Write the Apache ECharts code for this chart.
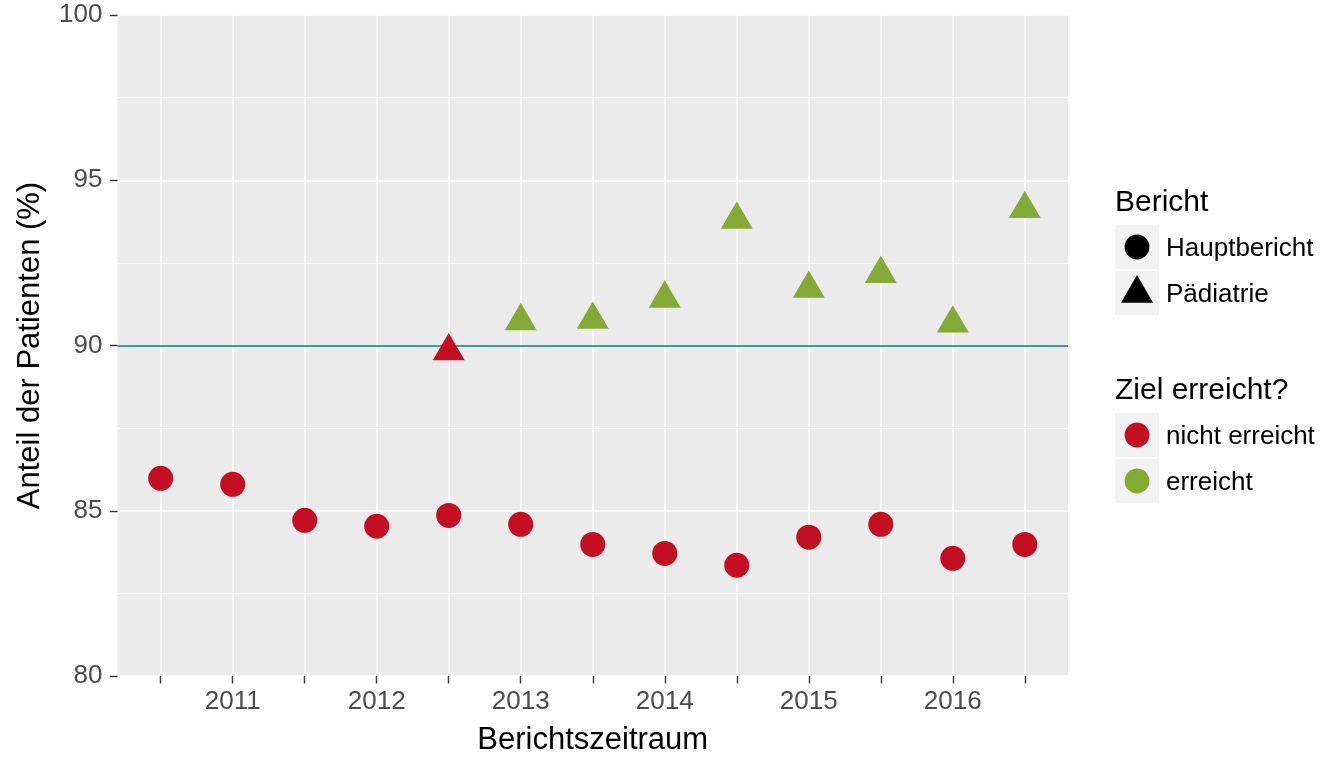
<!DOCTYPE html>
<html>
<head>
<meta charset="utf-8">
<script src="https://cdn.jsdelivr.net/npm/echarts@6/dist/echarts.min.js"></script>
<style>
html,body{margin:0;padding:0;background:#fff;}
#chart{width:1344px;height:768px;}
</style>
</head>
<body>
<div id="chart"></div>
<script>
// ---- data ----
const periods = [2010.5, 2011, 2011.5, 2012, 2012.5, 2013, 2013.5, 2014, 2014.5, 2015, 2015.5, 2016, 2016.5];
const hauptbericht = [85.98, 85.80, 84.71, 84.53, 84.86, 84.59, 83.98, 83.71, 83.35, 84.20, 84.59, 83.56, 83.98];
const paediatriePeriods = [2012.5, 2013, 2013.5, 2014, 2014.5, 2015, 2015.5, 2016, 2016.5];
const paediatrie = [89.83, 90.74, 90.78, 91.42, 93.81, 91.72, 92.17, 90.67, 94.13];
const target = 90;
const yearLabels = [2011, 2012, 2013, 2014, 2015, 2016];
const yTicks = [80, 85, 90, 95, 100];

const RED = '#C40F23';
const GREEN = '#84AA35';
const FONT = "'Liberation Sans', Arial, sans-serif";

const colorFor = v => (v >= target ? GREEN : RED);

const hbData = periods.map((p, i) => ({ value: [p, hauptbericht[i]], itemStyle: { color: colorFor(hauptbericht[i]), opacity: 1 } }));
const pdData = paediatriePeriods.map((p, i) => ({ value: [p, paediatrie[i]], itemStyle: { color: colorFor(paediatrie[i]), opacity: 1 } }));

const chart = echarts.init(document.getElementById('chart'), null, { renderer: 'canvas' });

const legendX = 1115;
const keyW = 44, keyH = 44;
function keyBox(y) {
  return { type: 'rect', shape: { x: legendX, y: y, width: keyW, height: keyH }, style: { fill: '#F2F2F2' }, silent: true };
}
function label(text, x, y, size) {
  return { type: 'text', x: x, y: y, style: { text: text, fontFamily: FONT, fontSize: size, fill: '#000', align: 'left', verticalAlign: 'middle' }, silent: true };
}

const option = {
  animation: false,
  backgroundColor: '#fff',
  grid: { left: 117.5, right: 276, top: 15, bottom: 92, show: true, backgroundColor: '#EBEBEB', borderWidth: 0, containLabel: false },
  xAxis: {
    type: 'value', min: 2010.2, max: 2016.8,
    name: 'Berichtszeitraum', nameLocation: 'middle', nameGap: 49,
    nameTextStyle: { fontFamily: FONT, fontSize: 31, color: '#000' },
    axisLine: { show: false },
    axisTick: { show: true, length: 7.5, lineStyle: { color: '#333', width: 1.4 }, customValues: periods },
    axisLabel: { fontFamily: FONT, fontSize: 26, color: '#4D4D4D', margin: 13, customValues: yearLabels, formatter: v => String(v) },
    splitLine: { show: true, lineStyle: { color: '#fff', width: 1.7 } }
  },
  yAxis: {
    type: 'value', min: 80, max: 100, interval: 5,
    name: 'Anteil der Patienten (%)', nameLocation: 'middle', nameGap: 72,
    nameTextStyle: { fontFamily: FONT, fontSize: 31, color: '#000' },
    axisLine: { show: false },
    axisTick: { show: true, length: 7.5, lineStyle: { color: '#333', width: 1.4 } },
    axisLabel: { fontFamily: FONT, fontSize: 26, color: '#4D4D4D', margin: 15, formatter: v => (yTicks.includes(v) ? String(v) : '') },
    splitLine: { show: true, lineStyle: { color: '#fff', width: 1.7 } },
    minorTick: { show: false, splitNumber: 2 },
    minorSplitLine: { show: true, lineStyle: { color: '#fff', width: 0.8 } }
  },
  series: [
    {
      name: 'Ziel', type: 'line', data: [], z: 1, silent: true,
      markLine: { silent: true, symbol: 'none', z: 1, label: { show: false },
        lineStyle: { color: '#0072B2', width: 1.7, type: 'solid', opacity: 1 },
        data: [{ yAxis: target }] }
    },
    {
      name: 'Hauptbericht', type: 'scatter', z: 3, symbol: 'circle', symbolSize: 25,
      itemStyle: { opacity: 1 },
      data: hbData
    },
    {
      name: 'Pädiatrie', type: 'scatter', z: 3, symbol: 'triangle', symbolSize: [32, 27.3], symbolOffset: [0, -4.55],
      itemStyle: { opacity: 1 },
      data: pdData
    }
  ],
  graphic: [
    label('Bericht', legendX, 203, 30),
    keyBox(225),
    { type: 'circle', shape: { cx: legendX + 22, cy: 247, r: 12.4 }, style: { fill: '#000' }, silent: true },
    label('Hauptbericht', 1166, 249, 26),
    keyBox(271),
    { type: 'polygon', shape: { points: [[legendX + 22, 275], [legendX + 38, 302.7], [legendX + 6, 302.7]] }, style: { fill: '#000' }, silent: true },
    label('Pädiatrie', 1166, 295, 26),
    label('Ziel erreicht?', legendX, 391, 30),
    keyBox(413),
    { type: 'circle', shape: { cx: legendX + 22, cy: 435, r: 12.4 }, style: { fill: RED }, silent: true },
    label('nicht erreicht', 1166, 437, 26),
    keyBox(459),
    { type: 'circle', shape: { cx: legendX + 22, cy: 481, r: 12.4 }, style: { fill: GREEN }, silent: true },
    label('erreicht', 1166, 483, 26)
  ]
};
chart.setOption(option);
</script>
</body>
</html>
